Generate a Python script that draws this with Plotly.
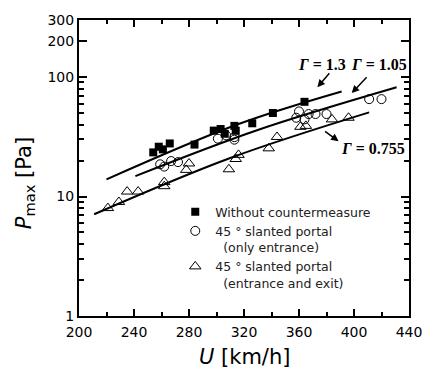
import math
import plotly.graph_objects as go

# ---- data ----
# Without countermeasure (filled squares)
sq_u = [254, 258, 261, 266, 284, 298, 303, 306, 313, 314, 326, 341, 364]
sq_p = [23.4, 26.1, 24.8, 27.8, 27.2, 35.6, 36.7, 33.5, 39.0, 35.5, 41.0, 50.0, 62.0]

# 45 deg slanted portal, only entrance (open circles)
ci_u = [259, 262, 267, 272, 301, 307, 313, 313, 358, 360, 364, 367, 372, 380, 411, 420]
ci_p = [18.6, 17.8, 19.8, 19.4, 30.5, 32.5, 31.4, 29.9, 45.6, 51.5, 44.2, 49.0, 49.0, 49.0, 65.3, 65.3]

# 45 deg slanted portal, entrance and exit (open triangles)
tr_u = [221, 229, 235, 243, 262, 262, 278, 280, 309, 314, 316, 338, 344, 361, 365, 384, 396]
tr_p = [8.0, 9.0, 11.0, 11.0, 13.2, 12.2, 16.7, 18.9, 16.9, 20.6, 22.3, 25.3, 31.5, 38.3, 39.0, 44.2, 45.6]

# fitted curves
fit13_u = [220, 315, 391]
fit13_p = [13.9, 40.0, 75.7]
fit105_u = [241, 330, 431]
fit105_p = [14.8, 36.0, 82.0]
fit0755_u = [211, 310, 411]
fit0755_p = [7.1, 21.0, 50.6]

x_ticks = [200, 240, 280, 320, 360, 400, 440]
y_ticks = [1, 10, 100, 200, 300]
y_minor = [2, 3, 4, 5, 6, 7, 8, 9, 20, 30, 40, 50, 60, 70, 80, 90]

FONT = "DejaVu Sans"
SERIF = "Liberation Serif"

fig = go.Figure()

for u, p in [(fit13_u, fit13_p), (fit105_u, fit105_p), (fit0755_u, fit0755_p)]:
    fig.add_trace(go.Scatter(x=u, y=p, mode="lines", line=dict(color="black", width=2),
                             line_shape="spline", showlegend=False, hoverinfo="skip"))

fig.add_trace(go.Scatter(x=sq_u, y=sq_p, mode="markers", name="Without countermeasure",
                         marker=dict(symbol="square", size=8, color="black")))
fig.add_trace(go.Scatter(x=ci_u, y=ci_p, mode="markers",
                         name="45 \u00b0 slanted portal<br>\u00a0\u00a0(only entrance)",
                         marker=dict(symbol="circle-open", size=9, color="black", line=dict(width=1))))
fig.add_trace(go.Scatter(x=tr_u, y=tr_p, mode="markers",
                         name="45 \u00b0 slanted portal<br>\u00a0\u00a0(entrance and exit)",
                         marker=dict(symbol="triangle-up-open", size=10, color="black", line=dict(width=1))))

L, R, T, B = 79, 19, 15, 56
W, H = 434, 372
pw, ph = W - L - R, H - T - B

def px(xp):
    return (xp - L) / pw

def py(yp):
    return (H - B - yp) / ph

fig.update_layout(
    width=W, height=H,
    margin=dict(l=L, r=R, t=T, b=B),
    paper_bgcolor="white", plot_bgcolor="white",
    font=dict(family=FONT, color="black"),
    legend=dict(x=px(177), y=py(195), xanchor="left", yanchor="top",
                bgcolor="rgba(0,0,0,0)", borderwidth=0, tracegroupgap=0,
                valign="top", font=dict(family=FONT, size=12.5, color="#222")),
    xaxis=dict(range=[200, 440], tickvals=x_ticks, ticks="inside", ticklen=7, tickwidth=1.5,
               tickcolor="black", showline=True, linewidth=2, linecolor="black", mirror="ticks",
               showgrid=False, zeroline=False, tickfont=dict(family=FONT, size=14),
               ticklabelstandoff=2,
               minor=dict(dtick=20, tick0=200, ticks="inside", ticklen=4, tickwidth=1.5,
                          tickcolor="black", showgrid=False)),
    yaxis=dict(type="log", range=[0, math.log10(300)], tickvals=y_ticks,
               ticktext=[str(v) for v in y_ticks], ticks="inside", ticklen=8, tickwidth=1.5,
               tickcolor="black", showline=True, linewidth=2, linecolor="black", mirror="ticks",
               showgrid=False, zeroline=False, tickfont=dict(family=FONT, size=14),
               minor=dict(tickmode="array", tickvals=y_minor, ticks="inside", ticklen=5,
                          tickwidth=1.5, tickcolor="black", showgrid=False)),
)

ann = []
# axis titles
ann.append(dict(text="<i>U</i> [km/h]", xref="paper", yref="paper", x=px(247), y=py(358),
                showarrow=False, font=dict(family=FONT, size=21), xanchor="center", yanchor="middle"))
ann.append(dict(text="<i>P</i><sub>max</sub> [Pa]", xref="paper", yref="paper", x=px(24), y=py(181),
                showarrow=False, textangle=-90, font=dict(family=FONT, size=21),
                xanchor="center", yanchor="middle"))
# Gamma labels
for txt, cx, cy in [("<i>\u0393</i> = 1.3", 326, 60), ("<i>\u0393</i> = 1.05", 384, 60),
                    ("<i>\u0393</i> = 0.755", 378, 146)]:
    ann.append(dict(text="<b>" + txt + "</b>", xref="paper", yref="paper", x=px(cx), y=py(cy),
                    showarrow=False, font=dict(family=SERIF, size=16), xanchor="center", yanchor="middle"))
# arrows (head position, tail offset)
for hx, hy, ax, ay in [(321.7, 83.3, 13.3, -15.3), (356.7, 89.3, 16.3, -17.3), (343.3, 138.3, -15, -11)]:
    ann.append(dict(text="", xref="paper", yref="paper", x=px(hx), y=py(hy), ax=ax, ay=ay,
                    showarrow=True, arrowhead=2, arrowsize=1, arrowwidth=1.5, arrowcolor="black"))
fig.update_layout(annotations=ann)

fig.write_html("out.html")
